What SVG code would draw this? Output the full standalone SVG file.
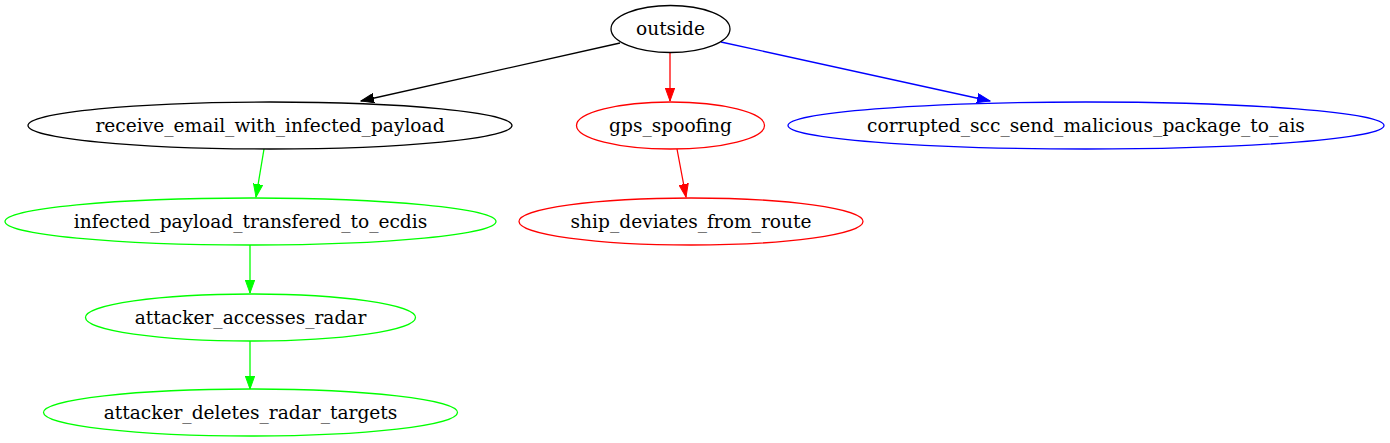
<svg xmlns="http://www.w3.org/2000/svg" width="1390" height="443" viewBox="0 0 1390 443">
<style>
text{font-family:"DejaVu Serif","Liberation Serif",serif;font-size:18.6px;text-anchor:middle;fill:#000}
ellipse{fill:none;stroke-width:1.3}
.e{fill:none;stroke-width:1.3}
</style>
<defs>
<marker id="ak" markerUnits="userSpaceOnUse" markerWidth="14" markerHeight="10" refX="13" refY="5" orient="auto"><path d="M0,0.3 L13,5 L0,9.7 Z" fill="#000" stroke="#000"/></marker>
<marker id="ar" markerUnits="userSpaceOnUse" markerWidth="14" markerHeight="10" refX="13" refY="5" orient="auto"><path d="M0,0.3 L13,5 L0,9.7 Z" fill="#f00" stroke="#f00"/></marker>
<marker id="ab" markerUnits="userSpaceOnUse" markerWidth="14" markerHeight="10" refX="13" refY="5" orient="auto"><path d="M0,0.3 L13,5 L0,9.7 Z" fill="#00f" stroke="#00f"/></marker>
<marker id="ag" markerUnits="userSpaceOnUse" markerWidth="14" markerHeight="10" refX="13" refY="5" orient="auto"><path d="M0,0.3 L13,5 L0,9.7 Z" fill="#0f0" stroke="#0f0"/></marker>
</defs>
<rect width="1390" height="443" fill="#fff"/>
<g id="connectors">
<path class="e" d="M620,43 L361,101" stroke="#000" marker-end="url(#ak)"/>
<path class="e" d="M670,53 L670,101" stroke="#f00" marker-end="url(#ar)"/>
<path class="e" d="M721,42 L990,101" stroke="#00f" marker-end="url(#ab)"/>
<path class="e" d="M264,149 L256,197" stroke="#0f0" marker-end="url(#ag)"/>
<path class="e" d="M677,149 L686,197" stroke="#f00" marker-end="url(#ar)"/>
<path class="e" d="M250,245 L250,293" stroke="#0f0" marker-end="url(#ag)"/>
<path class="e" d="M250,341 L250,389" stroke="#0f0" marker-end="url(#ag)"/>
</g>
<g id="outside"><ellipse cx="670.5" cy="29" rx="59.5" ry="23.5" stroke="#000"/><text x="670.5" y="35">outside</text></g>
<g id="receive_email_with_infected_payload"><ellipse cx="270" cy="125.5" rx="242" ry="23.5" stroke="#000"/><text x="270" y="131.5">receive_email_with_infected_payload</text></g>
<g id="gps_spoofing"><ellipse cx="670.5" cy="125.5" rx="94" ry="23.5" stroke="#f00"/><text x="670.5" y="131.5">gps_spoofing</text></g>
<g id="corrupted_scc_send_malicious_package_to_ais"><ellipse cx="1086" cy="125.5" rx="298" ry="23.5" stroke="#00f"/><text x="1086" y="131.5">corrupted_scc_send_malicious_package_to_ais</text></g>
<g id="infected_payload_transfered_to_ecdis"><ellipse cx="250.5" cy="221.5" rx="245.5" ry="23.5" stroke="#0f0"/><text x="250.5" y="227.5">infected_payload_transfered_to_ecdis</text></g>
<g id="ship_deviates_from_route"><ellipse cx="691" cy="221.5" rx="172" ry="23.5" stroke="#f00"/><text x="691" y="227.5">ship_deviates_from_route</text></g>
<g id="attacker_accesses_radar"><ellipse cx="250.5" cy="317.5" rx="165" ry="23.5" stroke="#0f0"/><text x="250.5" y="323.5">attacker_accesses_radar</text></g>
<g id="attacker_deletes_radar_targets"><ellipse cx="250.5" cy="412.5" rx="207" ry="23.5" stroke="#0f0"/><text x="250.5" y="418.5">attacker_deletes_radar_targets</text></g>
</svg>
